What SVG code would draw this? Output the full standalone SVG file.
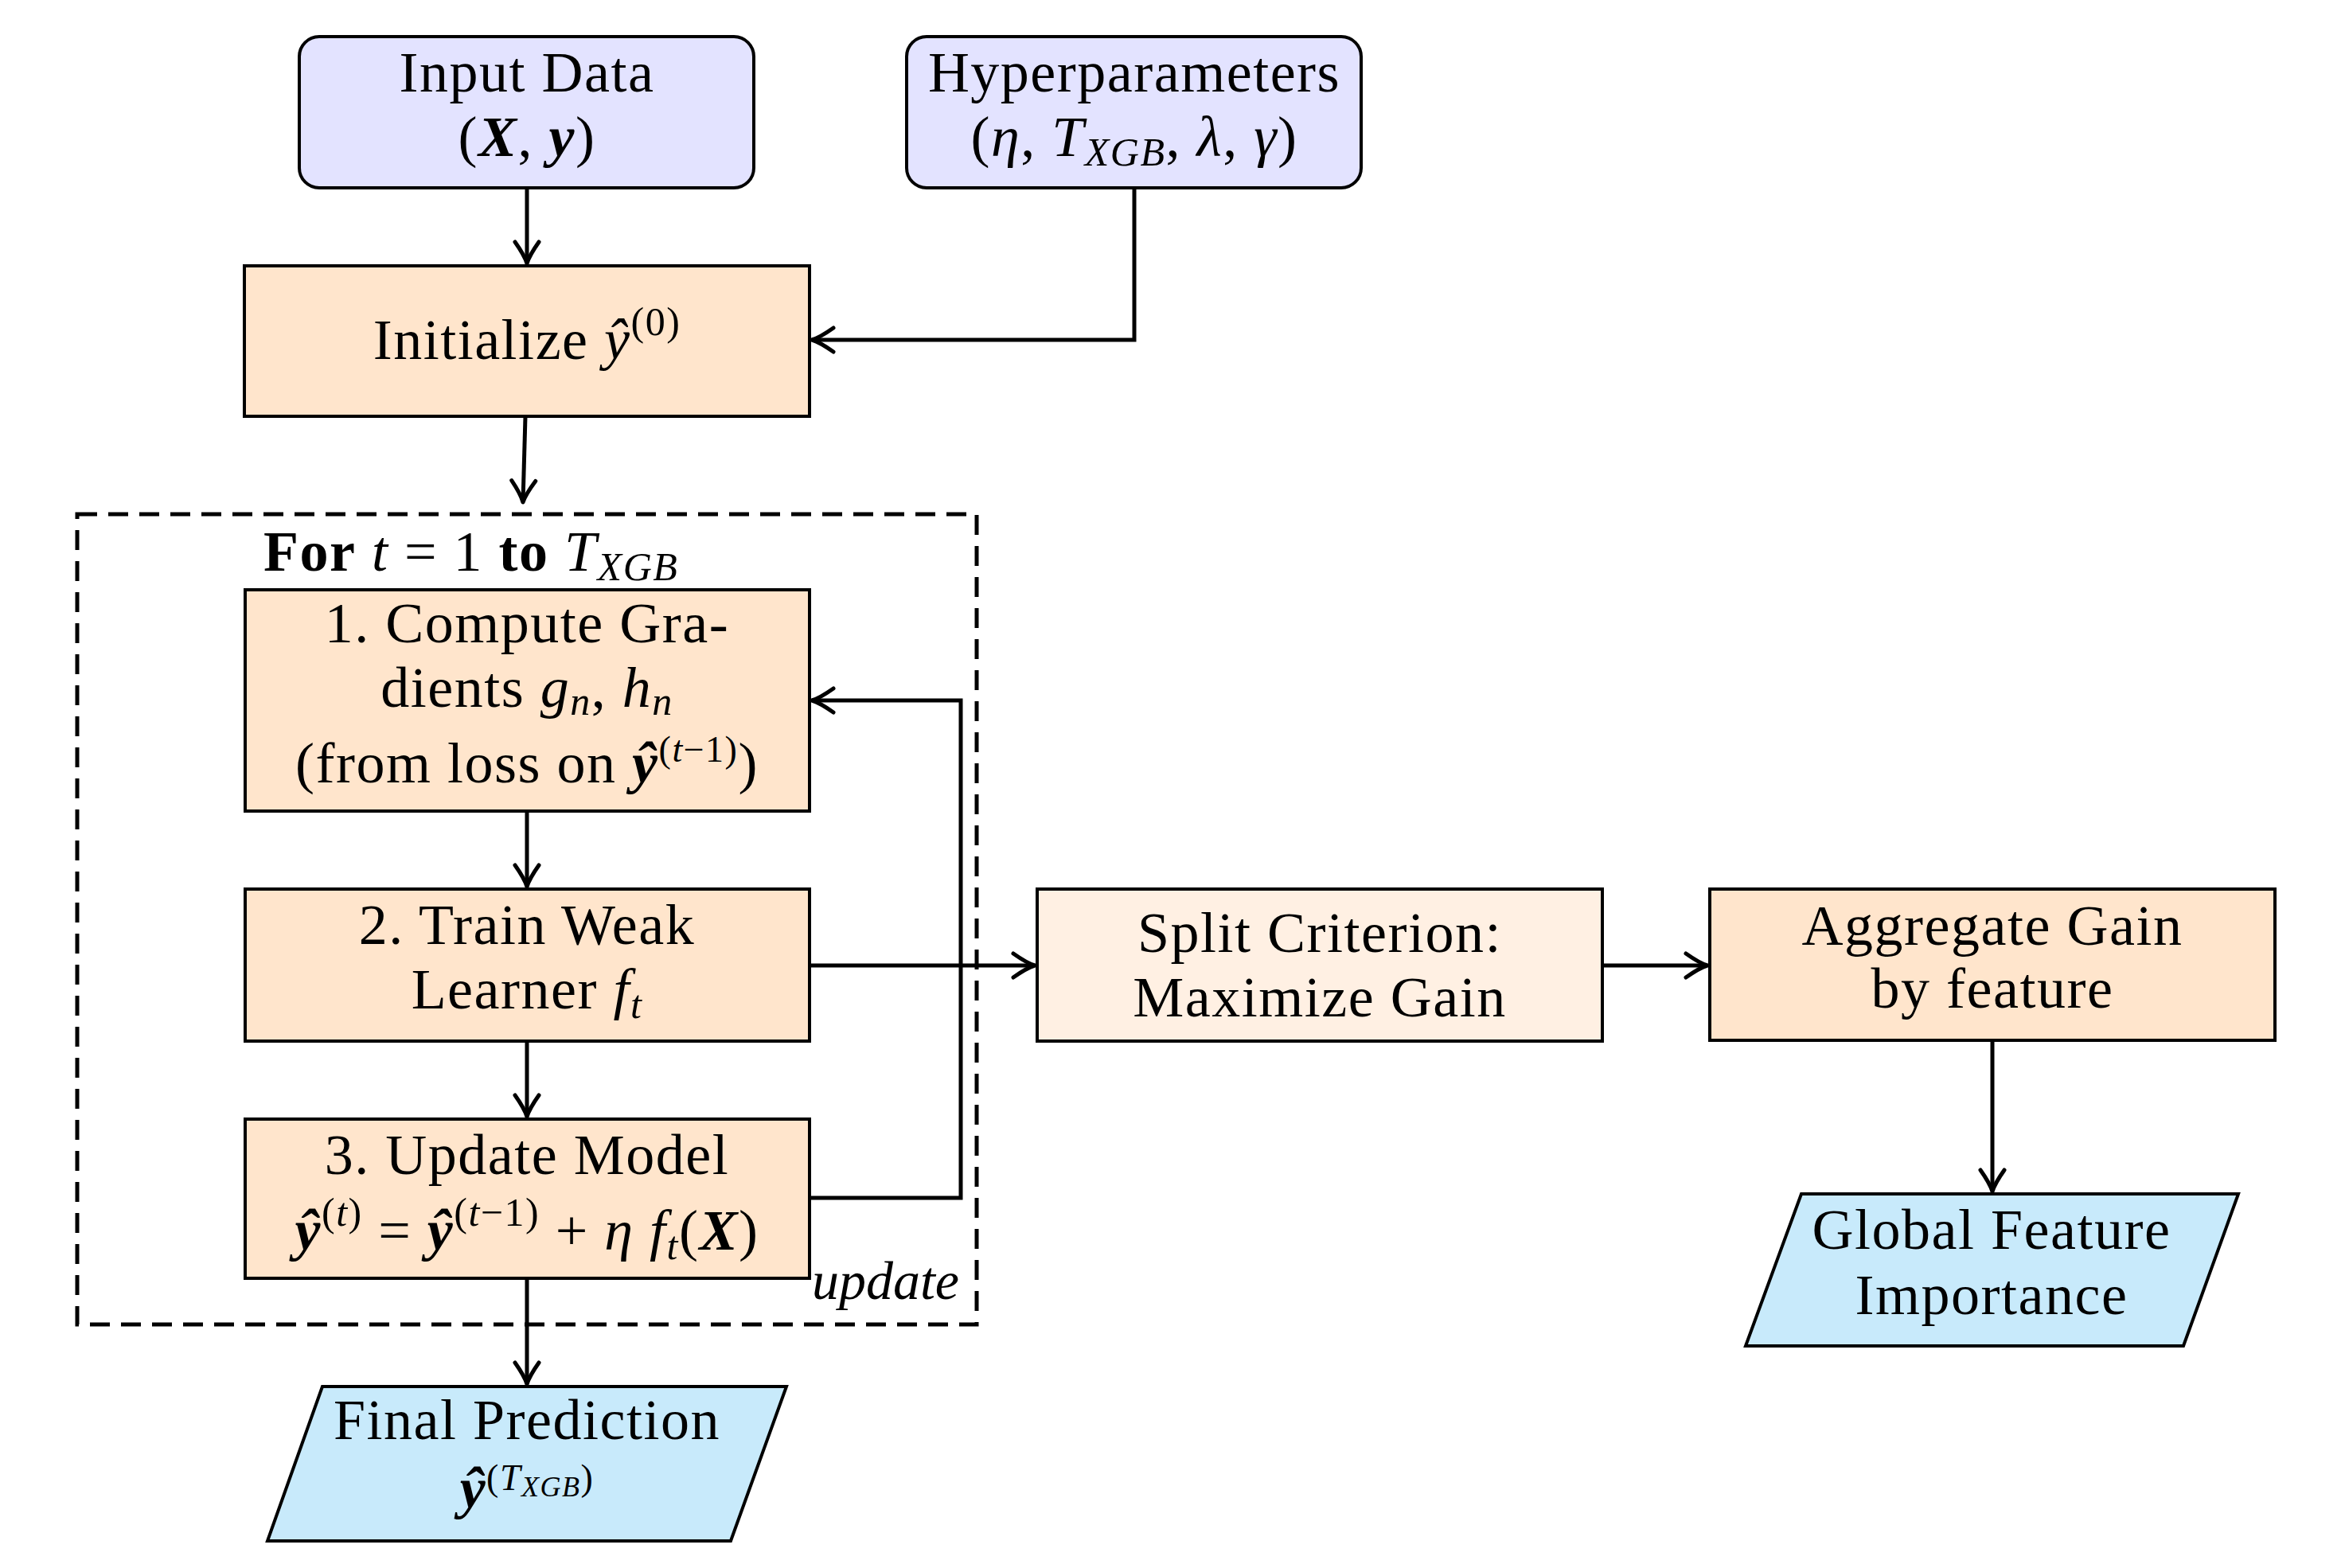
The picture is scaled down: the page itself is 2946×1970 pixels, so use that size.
<svg xmlns="http://www.w3.org/2000/svg" width="2946" height="1970" viewBox="0 0 2946 1970">
<style>
text{font-family:"Liberation Serif","DejaVu Serif",serif;font-size:72px;fill:#000;text-anchor:middle;letter-spacing:1.5px}
.i{font-style:italic}
.bi{font-style:italic;font-weight:bold}
.b{font-weight:bold}
.sup{font-size:50px}
.sub{font-size:50px;font-style:italic}
.box{stroke:#000;stroke-width:4}
.in{fill:#E3E3FF}
.step{fill:#FFE5CC}
.light{fill:#FFF0E3}
.out{fill:#C8EAFB}
.conn{fill:none;stroke:#000;stroke-width:5}
</style>
<defs>
<marker id="arr" markerUnits="userSpaceOnUse" viewBox="-34 -22 40 44" markerWidth="40" markerHeight="44" refX="0" refY="0" orient="auto" overflow="visible">
<path d="M-27,-15 Q-10,-3 0,0 Q-10,3 -27,15" fill="none" stroke="#000" stroke-width="5" stroke-linecap="round" stroke-linejoin="round"/>
</marker>
</defs>
<rect width="2946" height="1970" fill="#fff"/>

<g id="loop">
<rect x="97" y="646" width="1130" height="1018" fill="none" stroke="#000" stroke-width="5" stroke-dasharray="25 14"/>
<text x="331" y="717" style="text-anchor:start"><tspan class="b">For</tspan> <tspan class="i">t</tspan> = 1 <tspan class="b">to</tspan> <tspan class="i">T</tspan><tspan class="sub" dy="12">XGB</tspan></text>
<text x="1205" y="1632" class="i" style="text-anchor:end;font-size:68px;letter-spacing:0">update</text>
</g>

<g id="input">
<rect class="box in" x="376" y="46" width="571" height="190" rx="25"/>
<text x="662" y="115">Input Data</text>
<text x="662" y="196">(<tspan class="bi">X</tspan>, <tspan class="bi">y</tspan>)</text>
</g>

<g id="hyper">
<rect class="box in" x="1139" y="46" width="571" height="190" rx="25"/>
<text x="1425" y="115">Hyperparameters</text>
<text x="1425" y="196">(<tspan class="i">η</tspan>, <tspan class="i">T</tspan><tspan class="sub" dy="12">XGB</tspan><tspan dy="-12">, </tspan><tspan class="i">λ</tspan>, <tspan class="i">γ</tspan>)</text>
</g>

<g id="init">
<rect class="box step" x="307" y="334" width="710" height="189"/>
<text x="662" y="451">Initialize <tspan class="i">ŷ</tspan><tspan class="sup" dy="-30">(0)</tspan></text>
</g>

<g id="step1">
<rect class="box step" x="308" y="741" width="709" height="278"/>
<text x="662" y="807">1. Compute Gra-</text>
<text x="662" y="888">dients <tspan class="i">g</tspan><tspan class="sub" dy="10">n</tspan><tspan dy="-10">, </tspan><tspan class="i">h</tspan><tspan class="sub" dy="10">n</tspan></text>
<text x="662" y="983">(from loss on <tspan class="bi">ŷ</tspan><tspan style="font-size:46px" dy="-26">(<tspan class="i">t</tspan>−1)</tspan><tspan dy="26">)</tspan></text>
</g>

<g id="step2">
<rect class="box step" x="308" y="1117" width="709" height="191"/>
<text x="662" y="1186">2. Train Weak</text>
<text x="662" y="1267">Learner <tspan class="i">f</tspan><tspan class="sub" dy="12">t</tspan></text>
</g>

<g id="step3">
<rect class="box step" x="308" y="1406" width="709" height="200"/>
<text x="662" y="1475">3. Update Model</text>
<text x="662" y="1570"><tspan class="bi">ŷ</tspan><tspan class="sup" dy="-30">(<tspan class="i">t</tspan>)</tspan><tspan dy="30"> = </tspan><tspan class="bi">ŷ</tspan><tspan class="sup" dy="-30">(<tspan class="i">t</tspan>−1)</tspan><tspan dy="30"> + </tspan><tspan class="i">η f</tspan><tspan class="sub" dy="12">t</tspan><tspan dy="-12">(</tspan><tspan class="bi">X</tspan>)</text>
</g>

<g id="final">
<polygon class="box out" points="405,1742 988,1742 918,1936 336,1936"/>
<text x="662" y="1808">Final Prediction</text>
<text x="662" y="1894"><tspan class="bi">ŷ</tspan><tspan style="font-size:46px" dy="-22">(</tspan><tspan class="i" style="font-size:46px">T</tspan><tspan class="i" style="font-size:36px" dy="8">XGB</tspan><tspan style="font-size:46px" dy="-8">)</tspan></text>
</g>

<g id="split">
<rect class="box light" x="1303" y="1117" width="710" height="191"/>
<text x="1658" y="1196">Split Criterion:</text>
<text x="1658" y="1277">Maximize Gain</text>
</g>

<g id="aggregate">
<rect class="box step" x="2148" y="1117" width="710" height="190"/>
<text x="2503" y="1187">Aggregate Gain</text>
<text x="2503" y="1266">by feature</text>
</g>

<g id="global">
<polygon class="box out" points="2263,1500 2812,1500 2743,1691 2193,1691"/>
<text x="2502" y="1569">Global Feature</text>
<text x="2502" y="1651">Importance</text>
</g>

<g id="connectors">
<path class="conn" d="M662,236 L662,331" marker-end="url(#arr)"/>
<path class="conn" d="M1425,236 L1425,427 L1020,427" marker-end="url(#arr)"/>
<path class="conn" d="M660,523 L657,631" marker-end="url(#arr)"/>
<path class="conn" d="M662,1019 L662,1114" marker-end="url(#arr)"/>
<path class="conn" d="M662,1308 L662,1403" marker-end="url(#arr)"/>
<path class="conn" d="M662,1606 L662,1739" marker-end="url(#arr)"/>
<path class="conn" d="M1017,1505 L1207,1505 L1207,880 L1020,880" marker-end="url(#arr)"/>
<path class="conn" d="M1017,1213 L1300,1213" marker-end="url(#arr)"/>
<path class="conn" d="M2013,1213 L2145,1213" marker-end="url(#arr)"/>
<path class="conn" d="M2503,1307 L2503,1497" marker-end="url(#arr)"/>
</g>
</svg>
